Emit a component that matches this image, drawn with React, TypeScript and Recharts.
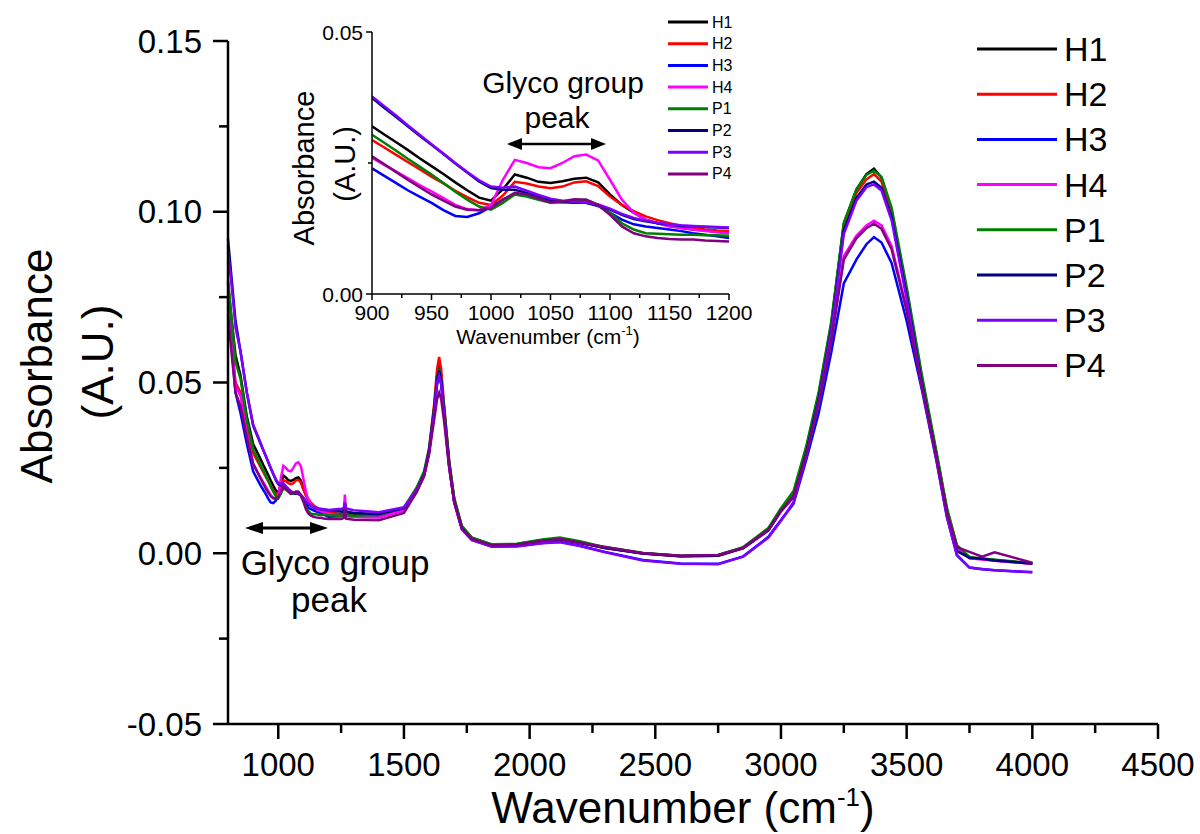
import React from "react";
import { LineChart, Line, XAxis, YAxis } from "recharts";

// wavenumber grid (cm-1), dense around the glyco band
const wavenumbers = [
  800, 815, 830, 850, 875,
  900, 910, 920, 930, 940, 950, 960, 970, 980, 990, 1000, 1010, 1020, 1030, 1040, 1050,
  1060, 1070, 1080, 1090, 1100, 1110, 1120, 1130, 1140, 1150, 1160, 1170, 1180, 1190, 1200,
  1250, 1260, 1265, 1270, 1300, 1400, 1500, 1550, 1580,
  1600, 1620, 1632, 1640, 1648, 1660, 1680, 1700, 1730, 1770,
  1850, 1950, 2050, 2120, 2200, 2300, 2450,
  2600, 2750, 2850, 2950, 3000,
  3050, 3100, 3150, 3200, 3250, 3300, 3340,
  3370, 3400, 3440, 3500, 3560, 3620, 3660, 3700,
  3750, 3800, 3850, 4000,
];

const h1 = [
  0.079, 0.068, 0.058, 0.052, 0.040,
  0.0320, 0.0305, 0.0290, 0.0275, 0.0259, 0.0244, 0.0229, 0.0213, 0.0198, 0.0184, 0.0178, 0.0200, 0.0228, 0.0222, 0.0214, 0.0212,
  0.0215, 0.0220, 0.0222, 0.0213, 0.0190, 0.0170, 0.0155, 0.0142, 0.0135, 0.0130, 0.0126, 0.0123, 0.0121, 0.0119, 0.0117,
  0.0115, 0.0117, 0.0150, 0.0117, 0.0113, 0.0112, 0.0130, 0.0185, 0.0232,
  0.0300, 0.0420, 0.0520, 0.0555, 0.0520, 0.0420, 0.0265, 0.0158, 0.0078, 0.0045,
  0.0025, 0.0027, 0.0038, 0.0043, 0.0032, 0.0016, 0.0000,
  -0.0008, -0.0006, 0.0016, 0.0070, 0.0128,
  0.0175, 0.0305, 0.0465, 0.0670, 0.0965, 0.1065, 0.1110,
  0.1126, 0.1100, 0.1005, 0.0770, 0.0515, 0.0285, 0.0128, 0.0020,
  -0.0013, -0.0016, -0.0020, -0.0030,
];
const h2 = [
  0.075, 0.062, 0.050, 0.047, 0.037,
  0.0294, 0.0280, 0.0266, 0.0252, 0.0238, 0.0224, 0.0211, 0.0197, 0.0185, 0.0174, 0.0170, 0.0188, 0.0214, 0.0211, 0.0205, 0.0202,
  0.0205, 0.0213, 0.0215, 0.0206, 0.0186, 0.0170, 0.0158, 0.0148, 0.0141, 0.0135, 0.0130, 0.0126, 0.0123, 0.0121, 0.0120,
  0.0113, 0.0115, 0.0145, 0.0115, 0.0110, 0.0108, 0.0128, 0.0182, 0.0230,
  0.0305, 0.0435, 0.0540, 0.0575, 0.0540, 0.0430, 0.0268, 0.0158, 0.0078, 0.0044,
  0.0024, 0.0026, 0.0037, 0.0042, 0.0031, 0.0015, -0.0001,
  -0.0009, -0.0007, 0.0015, 0.0068, 0.0126,
  0.0172, 0.0300, 0.0460, 0.0662, 0.0955, 0.1055, 0.1095,
  0.1110, 0.1088, 0.0995, 0.0765, 0.0510, 0.0282, 0.0126, 0.0019,
  -0.0014, -0.0017, -0.0021, -0.0031,
];
const h3 = [
  0.074, 0.060, 0.047, 0.041, 0.032,
  0.0240, 0.0226, 0.0212, 0.0198, 0.0186, 0.0174, 0.0160, 0.0149, 0.0147, 0.0154, 0.0166, 0.0180, 0.0190, 0.0188, 0.0182, 0.0177,
  0.0175, 0.0174, 0.0174, 0.0168, 0.0155, 0.0142, 0.0133, 0.0129, 0.0126, 0.0123, 0.0120, 0.0116, 0.0113, 0.0110, 0.0107,
  0.0108, 0.0110, 0.0140, 0.0110, 0.0107, 0.0106, 0.0126, 0.0180, 0.0226,
  0.0295, 0.0410, 0.0495, 0.0520, 0.0495, 0.0405, 0.0255, 0.0150, 0.0072, 0.0040,
  0.0020, 0.0021, 0.0030, 0.0034, 0.0022, 0.0004, -0.0020,
  -0.0030, -0.0031, -0.0009, 0.0048, 0.0097,
  0.0145, 0.0272, 0.0410, 0.0588, 0.0790, 0.0860, 0.0905,
  0.0926, 0.0910, 0.0850, 0.0680, 0.0480, 0.0265, 0.0106, -0.0006,
  -0.0042, -0.0047, -0.0050, -0.0056,
];
const h4 = [
  0.072, 0.060, 0.049, 0.046, 0.035,
  0.0260, 0.0247, 0.0234, 0.0221, 0.0208, 0.0196, 0.0183, 0.0170, 0.0162, 0.0160, 0.0170, 0.0218, 0.0256, 0.0250, 0.0242, 0.0240,
  0.0250, 0.0263, 0.0266, 0.0255, 0.0218, 0.0180, 0.0155, 0.0142, 0.0135, 0.0129, 0.0126, 0.0123, 0.0120, 0.0118, 0.0116,
  0.0108, 0.0112, 0.0172, 0.0110, 0.0106, 0.0105, 0.0126, 0.0182, 0.0230,
  0.0300, 0.0420, 0.0510, 0.0535, 0.0510, 0.0415, 0.0262, 0.0155, 0.0076, 0.0043,
  0.0023, 0.0025, 0.0036, 0.0041, 0.0031, 0.0017, 0.0000,
  -0.0008, -0.0006, 0.0015, 0.0066, 0.0122,
  0.0165, 0.0290, 0.0440, 0.0626, 0.0870, 0.0930, 0.0960,
  0.0974, 0.0960, 0.0900, 0.0715, 0.0495, 0.0275, 0.0118, 0.0015,
  -0.0015, -0.0018, -0.0022, -0.0031,
];
const p1 = [
  0.080, 0.068, 0.056, 0.051, 0.039,
  0.0304, 0.0289, 0.0274, 0.0258, 0.0243, 0.0228, 0.0212, 0.0195, 0.0180, 0.0167, 0.0161, 0.0174, 0.0190, 0.0186, 0.0180, 0.0174,
  0.0175, 0.0179, 0.0180, 0.0170, 0.0155, 0.0135, 0.0123, 0.0116, 0.0115, 0.0114, 0.0113, 0.0113, 0.0112, 0.0112, 0.0111,
  0.0110, 0.0112, 0.0140, 0.0112, 0.0110, 0.0112, 0.0134, 0.0192, 0.0240,
  0.0308, 0.0425, 0.0515, 0.0540, 0.0515, 0.0428, 0.0270, 0.0162, 0.0080, 0.0046,
  0.0026, 0.0028, 0.0040, 0.0046, 0.0035, 0.0018, 0.0001,
  -0.0007, -0.0005, 0.0018, 0.0074, 0.0132,
  0.0182, 0.0312, 0.0472, 0.0678, 0.0968, 0.1065, 0.1108,
  0.1120, 0.1102, 0.1012, 0.0780, 0.0525, 0.0292, 0.0134, 0.0024,
  -0.0011, -0.0015, -0.0019, -0.0029,
];
const p2 = [
  0.092, 0.080, 0.068, 0.059, 0.047,
  0.0374, 0.0356, 0.0338, 0.0320, 0.0302, 0.0285, 0.0267, 0.0249, 0.0232, 0.0215, 0.0202, 0.0199, 0.0199, 0.0193, 0.0186, 0.0180,
  0.0177, 0.0175, 0.0174, 0.0170, 0.0161, 0.0151, 0.0143, 0.0139, 0.0135, 0.0132, 0.0130, 0.0129, 0.0128, 0.0127, 0.0126,
  0.0122, 0.0122, 0.0145, 0.0122, 0.0118, 0.0115, 0.0132, 0.0184, 0.0230,
  0.0300, 0.0420, 0.0510, 0.0535, 0.0508, 0.0412, 0.0258, 0.0152, 0.0074, 0.0041,
  0.0023, 0.0025, 0.0036, 0.0041, 0.0030, 0.0015, -0.0001,
  -0.0009, -0.0007, 0.0015, 0.0068, 0.0124,
  0.0165, 0.0292, 0.0452, 0.0655, 0.0945, 0.1040, 0.1080,
  0.1088, 0.1070, 0.0985, 0.0755, 0.0500, 0.0275, 0.0118, 0.0006,
  -0.0013, -0.0016, -0.0021, -0.0030,
];
const p3 = [
  0.088, 0.078, 0.066, 0.059, 0.047,
  0.0377, 0.0359, 0.0341, 0.0322, 0.0304, 0.0286, 0.0268, 0.0250, 0.0233, 0.0217, 0.0205, 0.0203, 0.0205, 0.0197, 0.0189, 0.0182,
  0.0178, 0.0176, 0.0175, 0.0171, 0.0163, 0.0153, 0.0145, 0.0140, 0.0136, 0.0133, 0.0131, 0.0130, 0.0129, 0.0128, 0.0127,
  0.0130, 0.0131, 0.0148, 0.0131, 0.0126, 0.0120, 0.0135, 0.0185, 0.0228,
  0.0295, 0.0410, 0.0500, 0.0520, 0.0498, 0.0405, 0.0252, 0.0148, 0.0070, 0.0038,
  0.0019, 0.0020, 0.0029, 0.0032, 0.0021, 0.0003, -0.0021,
  -0.0031, -0.0032, -0.0010, 0.0046, 0.0095,
  0.0150, 0.0282, 0.0445, 0.0648, 0.0935, 0.1032, 0.1072,
  0.1080, 0.1062, 0.0975, 0.0745, 0.0490, 0.0268, 0.0108, -0.0005,
  -0.0042, -0.0046, -0.0050, -0.0055,
];
const p4 = [
  0.070, 0.058, 0.047, 0.043, 0.034,
  0.0263, 0.0248, 0.0233, 0.0218, 0.0204, 0.0190, 0.0178, 0.0167, 0.0161, 0.0160, 0.0164, 0.0180, 0.0193, 0.0190, 0.0182, 0.0175,
  0.0177, 0.0181, 0.0180, 0.0170, 0.0151, 0.0129, 0.0116, 0.0110, 0.0107, 0.0105, 0.0104, 0.0104, 0.0102, 0.0101, 0.0100,
  0.0100, 0.0103, 0.0135, 0.0101, 0.0098, 0.0097, 0.0118, 0.0178, 0.0226,
  0.0290, 0.0390, 0.0452, 0.0470, 0.0452, 0.0385, 0.0250, 0.0150, 0.0074, 0.0042,
  0.0023, 0.0025, 0.0036, 0.0042, 0.0031, 0.0018, 0.0001,
  -0.0007, -0.0005, 0.0016, 0.0068, 0.0124,
  0.0165, 0.0288, 0.0438, 0.0620, 0.0860, 0.0922, 0.0952,
  0.0965, 0.0950, 0.0890, 0.0710, 0.0492, 0.0274, 0.0120, 0.0018,
  0.0004, -0.0010, 0.0003, -0.0028,
];

const seriesNames = ["H1", "H2", "H3", "H4", "P1", "P2", "P3", "P4"];
const seriesColors = ["#000000", "#ff0000", "#0000ff", "#ff00ff", "#008000", "#000080", "#8000ff", "#800080"];
const seriesValues = [h1, h2, h3, h4, p1, p2, p3, p4];

const mainXTicks = [1000, 1250, 1500, 1750, 2000, 2250, 2500, 2750, 3000, 3250, 3500, 3750, 4000, 4250, 4500];
const mainYTicks = [-0.05, -0.025, 0, 0.025, 0.05, 0.075, 0.1, 0.125, 0.15];
const insetXTicks = [900, 925, 950, 975, 1000, 1025, 1050, 1075, 1100, 1125, 1150, 1175, 1200];
const insetYTicks = [0, 0.025, 0.05];

const rows = wavenumbers.map((wn, i) => {
  const r: Record<string, number> = { wn };
  seriesNames.forEach((n, k) => (r[n] = seriesValues[k][i]));
  return r;
});
const insetRows = rows.filter((r) => r.wn >= 900 && r.wn <= 1200);

const FONT = '"Liberation Sans", Arial, sans-serif';

const isStep = (v: number, step: number) => Math.abs(v / step - Math.round(v / step)) < 1e-6;

function XTick(props: any) {
  const { x, y, payload, step, len, minorLen, gap, fontSize, sw } = props;
  const major = isStep(payload.value, step);
  return (
    <g>
      <line x1={x} x2={x} y1={y} y2={y + (major ? len : minorLen)} stroke="#000" strokeWidth={sw} />
      {major && (
        <text x={x} y={y + gap} textAnchor="middle" dominantBaseline="central" fontSize={fontSize} fontFamily={FONT} fill="#000">
          {payload.value}
        </text>
      )}
    </g>
  );
}

function YTick(props: any) {
  const { x, y, payload, step, len, minorLen, gap, fontSize, sw } = props;
  const major = isStep(payload.value, step);
  return (
    <g>
      <line x1={x} x2={x - (major ? len : minorLen)} y1={y} y2={y} stroke="#000" strokeWidth={sw} />
      {major && (
        <text x={x - gap} y={y} textAnchor="end" dominantBaseline="central" fontSize={fontSize} fontFamily={FONT} fill="#000">
          {payload.value.toFixed(2)}
        </text>
      )}
    </g>
  );
}

function DoubleArrow({ x1, x2, y, head, half, sw }: any) {
  return (
    <g>
      <line x1={x1 + head - 2} x2={x2 - head + 2} y1={y} y2={y} stroke="#000" strokeWidth={sw} />
      <polygon points={`${x1},${y} ${x1 + head},${y - half} ${x1 + head},${y + half}`} fill="#000" />
      <polygon points={`${x2},${y} ${x2 - head},${y - half} ${x2 - head},${y + half}`} fill="#000" />
    </g>
  );
}

export default function App() {
  return (
    <div style={{ position: "absolute", left: 0, top: 0, width: 1200, height: 834, background: "#fff", overflow: "hidden" }}>
      <div style={{ position: "absolute", left: 0, top: 0 }}>
        <LineChart width={1200} height={834} data={rows} margin={{ top: 41, right: 42, left: 0, bottom: 0 }}>
          <XAxis
            dataKey="wn"
            type="number"
            domain={[800, 4500]}
            ticks={mainXTicks}
            interval={0}
            height={110}
            tickSize={0}
            tickMargin={0}
            axisLine={{ stroke: "#000", strokeWidth: 2.5 }}
            tickLine={false}
            tick={(p: any) => <XTick {...p} step={500} len={15} minorLen={9} gap={40} fontSize={33} sw={2.5} />}
          />
          <YAxis
            type="number"
            domain={[-0.05, 0.15]}
            ticks={mainYTicks}
            interval={0}
            width={228}
            tickSize={0}
            tickMargin={0}
            axisLine={{ stroke: "#000", strokeWidth: 2.5 }}
            tickLine={false}
            tick={(p: any) => <YTick {...p} step={0.05} len={15} minorLen={9} gap={26} fontSize={33} sw={2.5} />}
          />
          {seriesNames.map((n, k) => (
            <Line key={n} type="linear" dataKey={n} stroke={seriesColors[k]} strokeWidth={2.5} dot={false} isAnimationActive={false} />
          ))}
        </LineChart>
      </div>

      <div style={{ position: "absolute", left: 300, top: 0 }}>
        <LineChart width={470} height={360} data={insetRows} margin={{ top: 32, right: 41, left: 0, bottom: 0 }}>
          <XAxis
            dataKey="wn"
            type="number"
            domain={[900, 1200]}
            allowDataOverflow
            ticks={insetXTicks}
            interval={0}
            height={66}
            tickSize={0}
            tickMargin={0}
            axisLine={{ stroke: "#000", strokeWidth: 1.5 }}
            tickLine={false}
            tick={(p: any) => <XTick {...p} step={50} len={6} minorLen={4} gap={18} fontSize={21} sw={1.5} />}
          />
          <YAxis
            type="number"
            domain={[0, 0.05]}
            allowDataOverflow
            ticks={insetYTicks}
            interval={0}
            width={72}
            tickSize={0}
            tickMargin={0}
            axisLine={{ stroke: "#000", strokeWidth: 1.5 }}
            tickLine={false}
            tick={(p: any) => <YTick {...p} step={0.05} len={6} minorLen={4} gap={9} fontSize={21} sw={1.5} />}
          />
          {seriesNames.map((n, k) => (
            <Line key={n} type="linear" dataKey={n} stroke={seriesColors[k]} strokeWidth={2.5} dot={false} isAnimationActive={false} />
          ))}
        </LineChart>
      </div>

      <svg width={1200} height={834} style={{ position: "absolute", left: 0, top: 0, pointerEvents: "none" }} fontFamily={FONT}>
        {/* main axis titles */}
        <text transform="translate(36,366) rotate(-90)" textAnchor="middle" dominantBaseline="central" fontSize={44}>
          Absorbance
        </text>
        <text transform="translate(97,362) rotate(-90)" textAnchor="middle" dominantBaseline="central" fontSize={44}>
          (A.U.)
        </text>
        <text x={683} y={823} textAnchor="middle" fontSize={44}>
          Wavenumber (cm<tspan dy={-17} fontSize={26}>-1</tspan>
          <tspan dy={17}>)</tspan>
        </text>

        {/* main annotation */}
        <DoubleArrow x1={245} x2={328} y={528} head={18} half={6} sw={3} />
        <text x={335} y={575} textAnchor="middle" fontSize={35}>Glyco group</text>
        <text x={329} y={612} textAnchor="middle" fontSize={35}>peak</text>

        {/* main legend */}
        {seriesNames.map((n, k) => (
          <g key={n}>
            <line x1={977} x2={1057} y1={49 + k * 45.2} y2={49 + k * 45.2} stroke={seriesColors[k]} strokeWidth={3} />
            <text x={1064} y={49 + k * 45.2} dominantBaseline="central" fontSize={34}>{n}</text>
          </g>
        ))}

        {/* inset axis titles */}
        <text transform="translate(304,168) rotate(-90)" textAnchor="middle" dominantBaseline="central" fontSize={29}>
          Absorbance
        </text>
        <text transform="translate(345,164) rotate(-90)" textAnchor="middle" dominantBaseline="central" fontSize={29}>
          (A.U.)
        </text>
        <text x={548} y={344} textAnchor="middle" fontSize={21}>
          Wavenumber (cm<tspan dy={-9} fontSize={13}>-1</tspan>
          <tspan dy={9}>)</tspan>
        </text>

        {/* inset annotation */}
        <text x={563} y={93} textAnchor="middle" fontSize={30}>Glyco group</text>
        <text x={557} y={128} textAnchor="middle" fontSize={30}>peak</text>
        <DoubleArrow x1={507} x2={606} y={144} head={15} half={6} sw={2.5} />

        {/* inset legend */}
        {seriesNames.map((n, k) => (
          <g key={n}>
            <line x1={668} x2={708} y1={22 + k * 21.7} y2={22 + k * 21.7} stroke={seriesColors[k]} strokeWidth={3} />
            <text x={712} y={22 + k * 21.7} dominantBaseline="central" fontSize={16}>{n}</text>
          </g>
        ))}
      </svg>
    </div>
  );
}
